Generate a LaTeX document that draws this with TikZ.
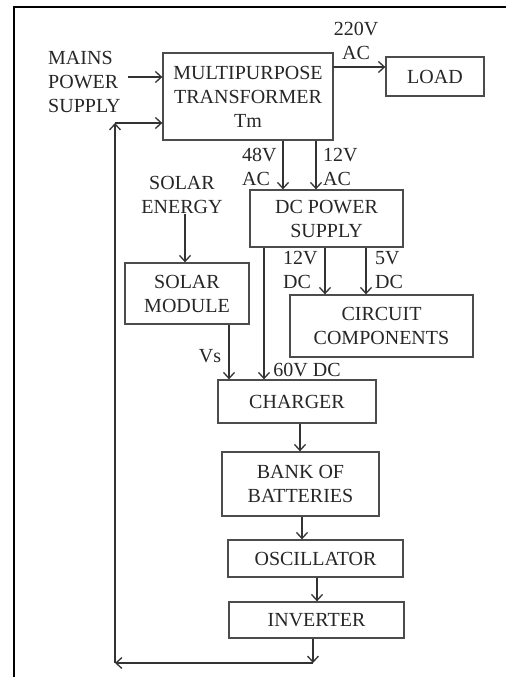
\documentclass[tikz,border=0pt]{standalone}
\usepackage{fontspec}
\setmainfont{Liberation Serif}
\usetikzlibrary{arrows.meta,calc}
\begin{document}
\begin{tikzpicture}[x=1pt,y=-1pt,
  line/.style={draw=black!80, line width=1.3pt},
  arr/.style={line, -{Straight Barb[length=6pt,width=11pt,line width=1.3pt]}},
  box/.style={draw=black!70, line width=1.3pt, align=center, inner sep=0pt, font=\fontsize{20}{24}\selectfont, text=black!85},
  lbl/.style={inner sep=0pt, font=\fontsize{20}{24}\selectfont, text=black!85},
]
\useasboundingbox (0,0) rectangle (506,677);
\draw[line width=2.8pt] (14,677) -- (14,7) -- (506,7);

% boxes
\node[box, minimum width=170pt, minimum height=87pt] (tm) at (248,96.5) {MULTIPURPOSE\\TRANSFORMER\\Tm};
\node[box, minimum width=98pt, minimum height=39pt] (load) at (435,76.5) {LOAD};
\node[box, minimum width=153pt, minimum height=57pt] (dc) at (326.5,218.5) {DC POWER\\SUPPLY};
\node[box, minimum width=124pt, minimum height=61pt] (sm) at (187,293.5) {SOLAR\\MODULE};
\node[box, minimum width=183pt, minimum height=62pt] (cc) at (381.5,326) {CIRCUIT\\COMPONENTS};
\node[box, minimum width=158pt, minimum height=43pt] (ch) at (297,401.5) {CHARGER};
\node[box, minimum width=157pt, minimum height=64pt] (bb) at (300.5,484) {BANK OF\\BATTERIES};
\node[box, minimum width=175pt, minimum height=37pt] (osc) at (315.5,558.5) {OSCILLATOR};
\node[box, minimum width=175pt, minimum height=36pt] (inv) at (316.5,620) {INVERTER};

% text nodes
\node[lbl, align=left, anchor=west] (mains) at (48,82) {MAINS\\POWER\\SUPPLY};
\node[lbl, align=center] (se) at (182,195) {SOLAR\\ENERGY};
\node[lbl, align=center] (l220) at (356,41) {220V\\AC};
\node[lbl, align=left, anchor=west] (l48) at (242,167) {48V\\AC};
\node[lbl, align=left, anchor=west] (l12a) at (323,167) {12V\\AC};
\node[lbl, align=left, anchor=west] (l12d) at (283,270) {12V\\DC};
\node[lbl, align=left, anchor=west] (l5d) at (375,270) {5V\\DC};
\node[lbl] (lvs) at (210,356) {Vs};
\node[lbl] (l60) at (307,370) {60V DC};

% helper coordinates
\coordinate (cMains) at (128,77);
\coordinate (cLoad) at (333,67);
\coordinate (x48) at (283,0);
\coordinate (x12a) at (316,0);
\coordinate (x60) at (264,0);
\coordinate (x12d) at (325,0);
\coordinate (x5d) at (366,0);
\coordinate (xse) at (185,0);
\coordinate (xvs) at (229,0);
\coordinate (xcb) at (300,0);
\coordinate (xbo) at (302,0);
\coordinate (xoi) at (317,0);
\coordinate (fbTop) at (115,123);
\coordinate (fbCorner) at (115,663);
\coordinate (fbStart) at (313,663);

% connectors
\draw[arr] (cMains) -- (cMains -| tm.west);
\draw[arr] (cLoad) -- (cLoad -| load.west);
\draw[arr] (tm.south -| x48) -- (dc.north -| x48);
\draw[arr] (tm.south -| x12a) -- (dc.north -| x12a);
\draw[arr] (dc.south -| x12d) -- (cc.north -| x12d);
\draw[arr] (dc.south -| x5d) -- (cc.north -| x5d);
\draw[arr] (dc.south -| x60) -- (ch.north -| x60);
\draw[arr] (se.south -| xse) -- (sm.north -| xse);
\draw[arr] (sm.south -| xvs) -- (ch.north -| xvs);
\draw[arr] (ch.south -| xcb) -- (bb.north -| xcb);
\draw[arr] (bb.south -| xbo) -- (osc.north -| xbo);
\draw[arr] (osc.south -| xoi) -- (inv.north -| xoi);
\draw[arr] (inv.south -| fbStart) -- (fbStart);
\draw[arr] (fbStart) -- (fbCorner);
\draw[arr] (fbCorner) -- (fbTop);
\draw[arr] (fbTop) -- (fbTop -| tm.west);
\end{tikzpicture}
\end{document}
